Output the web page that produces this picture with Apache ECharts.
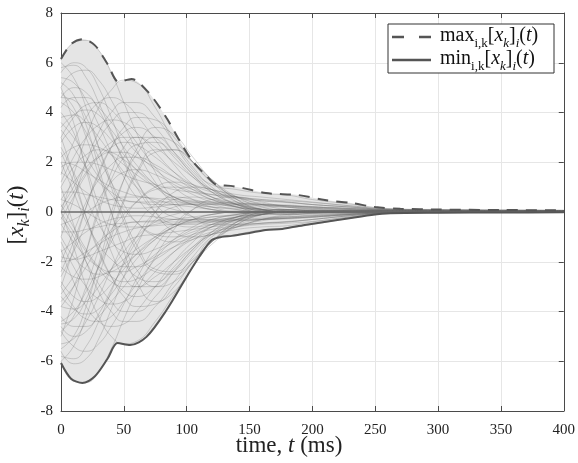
<!DOCTYPE html>
<html><head><meta charset="utf-8">
<script src="https://cdn.jsdelivr.net/npm/echarts@6/dist/echarts.min.js"></script>
<style>html,body{margin:0;padding:0;background:#fff}#c{width:578px;height:463px}</style>
</head><body><div id="c"></div><script>
// sample times (ms) for the individual trajectories
const times = [0,10,20,30,40,50,60,75,90,105,120,140,160,180,200,230,260,300,400];
const traj01 = [6.1,6.8,6.9,6.5,5.6,4.4,3.2,1.6,0.5,-0.2,-0.5,-0.5,-0.3,-0.15,-0.05,0,0.02,0.03,0.03];
const traj02 = [0.0,1.5,3.0,4.2,4.9,5.3,5.2,4.2,2.8,1.7,1.1,0.9,0.75,0.68,0.5,0.32,0.14,0.1,0.07];
const traj03 = [-6.0,-6.8,-6.85,-6.4,-5.5,-4.3,-3.2,-1.8,-0.7,0.1,0.5,0.6,0.4,0.2,0.1,0.05,0.03,0.02,0.02];
const traj04 = [0.0,-1.4,-3.0,-4.2,-5.0,-5.3,-5.2,-4.4,-3.3,-2.2,-1.1,-0.9,-0.72,-0.65,-0.5,-0.25,-0.05,-0.03,-0.02];
const traj05 = [5.6,6.0,5.8,5.0,3.8,2.5,1.3,0.0,-0.8,-1.0,-0.9,-0.6,-0.3,-0.1,0,0.02,0.03,0.03,0.03];
const traj06 = [5.0,5.6,5.7,5.3,4.5,3.5,2.5,1.2,0.3,-0.2,-0.3,-0.2,-0.1,0,0.03,0.05,0.05,0.05,0.04];
const traj07 = [4.6,4.5,3.8,2.6,1.2,-0.2,-1.3,-2.3,-2.4,-1.9,-1.2,-0.5,-0.1,0.05,0.05,0.03,0.02,0.02,0.02];
const traj08 = [4.0,3.2,1.8,0.3,-1.0,-2.0,-2.6,-2.8,-2.3,-1.5,-0.8,-0.2,0.05,0.1,0.05,0.02,0.01,0.01,0.01];
const traj09 = [5.2,4.7,3.5,1.8,0.0,-1.6,-2.8,-3.6,-3.2,-2.2,-1.2,-0.4,0,0.1,0.05,0.02,0.02,0.02,0.02];
const traj10 = [3.0,3.8,4.3,4.4,4.1,3.5,2.8,1.8,1.0,0.5,0.2,0,-0.05,0,0.02,0.03,0.04,0.04,0.04];
const traj11 = [1.5,2.8,3.8,4.4,4.6,4.4,3.9,2.9,1.9,1.1,0.6,0.2,0.05,0,0.02,0.04,0.05,0.05,0.05];
const traj12 = [-1.0,0.5,2.0,3.2,4.0,4.4,4.4,3.8,2.8,1.8,1.0,0.4,0.1,0,0,0.02,0.03,0.03,0.03];
const traj13 = [-3.0,-1.5,0.2,1.6,2.6,3.2,3.4,3.0,2.2,1.4,0.8,0.3,0.1,0,0,0.01,0.02,0.02,0.02];
const traj14 = [-5.0,-3.5,-1.6,0.2,1.6,2.6,3.0,3.0,2.4,1.6,0.9,0.3,0.05,0,0,0.01,0.02,0.02,0.02];
const traj15 = [2.2,2.6,2.7,2.6,2.3,1.9,1.5,1.0,0.6,0.3,0.1,0,0,0.02,0.03,0.05,0.06,0.06,0.05];
const traj16 = [3.6,3.0,2.2,1.4,0.7,0.1,-0.4,-0.9,-1.0,-0.8,-0.5,-0.2,0,0,0.01,0.02,0.02,0.02,0.02];
const traj17 = [1.0,1.8,2.3,2.5,2.4,2.1,1.7,1.1,0.6,0.3,0.1,0,0,0.02,0.04,0.06,0.07,0.07,0.06];
const traj18 = [-2.0,-0.8,0.4,1.3,1.9,2.2,2.2,1.9,1.4,0.9,0.5,0.2,0,0,0.01,0.02,0.03,0.03,0.03];
const traj19 = [0.5,0.3,0.0,-0.3,-0.5,-0.6,-0.6,-0.5,-0.3,-0.2,-0.1,0,0,0,0,0,0,0,0];
const traj20 = [-5.6,-6.1,-5.9,-5.1,-3.9,-2.6,-1.4,0.0,0.8,1.0,0.9,0.6,0.3,0.1,0.05,0.04,0.03,0.03,0.03];
const traj21 = [-4.8,-5.4,-5.6,-5.3,-4.6,-3.7,-2.7,-1.4,-0.5,0.1,0.3,0.2,0.1,0.05,0.03,0.02,0.02,0.02,0.02];
const traj22 = [-4.5,-4.3,-3.5,-2.2,-0.8,0.5,1.6,2.5,2.5,2.0,1.3,0.6,0.2,0.05,0,0,0.01,0.01,0.01];
const traj23 = [-3.8,-3.0,-1.6,0.0,1.3,2.2,2.7,2.8,2.3,1.5,0.8,0.3,0.05,0,0,0.01,0.02,0.02,0.02];
const traj24 = [-5.5,-5.0,-3.8,-2.1,-0.3,1.3,2.5,3.4,3.1,2.2,1.3,0.5,0.1,0,0,0.01,0.01,0.01,0.01];
const traj25 = [-3.0,-3.8,-4.3,-4.4,-4.2,-3.6,-2.9,-1.9,-1.1,-0.6,-0.3,-0.1,0,0,0.01,0.02,0.03,0.03,0.03];
const traj26 = [-1.5,-2.8,-3.8,-4.4,-4.6,-4.5,-4.0,-3.0,-2.0,-1.2,-0.6,-0.2,-0.05,0,0,0.01,0.02,0.02,0.02];
const traj27 = [1.0,-0.5,-2.0,-3.2,-4.0,-4.4,-4.4,-3.8,-2.8,-1.8,-1.0,-0.4,-0.1,0,0,0.01,0.01,0.01,0.01];
const traj28 = [3.0,1.5,-0.2,-1.6,-2.6,-3.2,-3.4,-3.0,-2.2,-1.4,-0.8,-0.3,-0.1,0,0,0,0.01,0.01,0.01];
const traj29 = [5.0,3.6,1.7,-0.2,-1.6,-2.6,-3.0,-3.0,-2.4,-1.6,-0.9,-0.3,-0.05,0,0,0,0.01,0.01,0.01];
const traj30 = [-2.2,-2.6,-2.7,-2.6,-2.3,-1.9,-1.5,-1.0,-0.6,-0.3,-0.1,0,0,0,0.01,0.02,0.03,0.03,0.03];
const traj31 = [-3.6,-3.0,-2.2,-1.4,-0.7,-0.1,0.4,0.9,1.0,0.8,0.5,0.2,0,0,0,0.01,0.01,0.01,0.01];
const traj32 = [2.0,0.8,-0.4,-1.3,-1.9,-2.2,-2.2,-1.9,-1.4,-0.9,-0.5,-0.2,0,0,0,0,0.01,0.01,0.01];
const traj33 = [-1.0,-1.8,-2.3,-2.5,-2.4,-2.1,-1.7,-1.1,-0.6,-0.3,-0.1,0,0,0,0,0.01,0.02,0.02,0.02];
const traj34 = [-0.5,-0.3,0.0,0.3,0.5,0.6,0.6,0.5,0.3,0.2,0.1,0,0,0,0,0,0,0,0];
const traj35 = [1.8,2.0,2.0,1.9,1.7,1.5,1.3,1.1,0.9,0.8,0.7,0.6,0.5,0.4,0.3,0.2,0.1,0.08,0.06];
const traj36 = [-1.8,-1.9,-1.8,-1.6,-1.4,-1.2,-1.0,-0.9,-0.8,-0.7,-0.6,-0.5,-0.45,-0.4,-0.3,-0.15,-0.04,-0.02,-0.01];
const traj37 = [4.2,4.6,4.6,4.2,3.6,3.0,2.4,1.7,1.2,0.9,0.7,0.55,0.45,0.4,0.3,0.2,0.1,0.08,0.06];
const traj38 = [-4.2,-4.6,-4.6,-4.2,-3.6,-3.0,-2.4,-1.7,-1.2,-0.9,-0.7,-0.55,-0.45,-0.4,-0.3,-0.15,-0.04,-0.02,-0.01];
const traj39 = [0.5,1.2,1.8,2.2,2.4,2.4,2.2,1.8,1.4,1.1,0.9,0.7,0.6,0.5,0.4,0.25,0.12,0.09,0.07];
const traj40 = [-0.5,-1.2,-1.8,-2.2,-2.4,-2.4,-2.2,-1.8,-1.4,-1.1,-0.9,-0.7,-0.6,-0.55,-0.4,-0.2,-0.05,-0.03,-0.02];
const traj41 = [3.3,2.6,1.8,1.2,0.8,0.5,0.4,0.3,0.3,0.3,0.3,0.25,0.2,0.2,0.15,0.1,0.06,0.05,0.04];
const traj42 = [-3.3,-2.6,-1.8,-1.2,-0.8,-0.5,-0.4,-0.35,-0.3,-0.3,-0.3,-0.25,-0.2,-0.2,-0.15,-0.1,-0.03,-0.02,-0.01];
const traj43 = [5.4,5.2,4.5,3.5,2.4,1.4,0.6,-0.2,-0.5,-0.5,-0.3,-0.1,0,0,0.01,0.02,0.03,0.03,0.03];
const traj44 = [-5.3,-5.1,-4.4,-3.4,-2.3,-1.3,-0.5,0.3,0.6,0.5,0.3,0.1,0,0,0.01,0.02,0.03,0.03,0.03];
const traj45 = [4.8,4.2,3.0,1.5,0.0,-1.3,-2.3,-3.0,-2.8,-2.0,-1.2,-0.4,0,0.1,0.05,0.02,0.02,0.02,0.02];
const traj46 = [-4.8,-4.2,-3.0,-1.5,0.0,1.3,2.3,3.0,2.8,2.0,1.2,0.4,0,-0.1,-0.05,0,0.01,0.01,0.01];
const traj47 = [2.8,3.4,3.6,3.4,2.9,2.3,1.7,1.0,0.5,0.3,0.2,0.15,0.12,0.1,0.08,0.06,0.05,0.05,0.04];
const traj48 = [-2.8,-3.4,-3.6,-3.4,-2.9,-2.3,-1.7,-1.0,-0.5,-0.3,-0.2,-0.15,-0.12,-0.1,-0.08,-0.05,-0.02,-0.01,0];
const traj49 = [0.0,0.8,1.6,2.3,2.8,3.0,3.0,2.6,2.0,1.4,0.9,0.5,0.3,0.2,0.12,0.08,0.06,0.05,0.05];
const traj50 = [0.0,-0.8,-1.6,-2.3,-2.8,-3.0,-3.0,-2.6,-2.0,-1.4,-0.9,-0.5,-0.3,-0.2,-0.12,-0.06,-0.02,-0.01,0];
const traj51 = [4.4,4.0,3.2,2.2,1.2,0.3,-0.4,-1.0,-1.2,-1.0,-0.6,-0.3,-0.1,0,0.02,0.03,0.03,0.03,0.03];
const traj52 = [-4.4,-4.0,-3.2,-2.2,-1.2,-0.3,0.4,1.0,1.2,1.0,0.6,0.3,0.1,0,0.01,0.02,0.02,0.02,0.02];
const traj53 = [1.2,2.2,3.0,3.5,3.7,3.6,3.2,2.4,1.6,1.0,0.6,0.4,0.3,0.25,0.2,0.14,0.08,0.06,0.05];
const traj54 = [-1.2,-2.2,-3.0,-3.5,-3.7,-3.6,-3.2,-2.4,-1.6,-1.0,-0.6,-0.4,-0.3,-0.25,-0.2,-0.1,-0.03,-0.01,0];
const traj55 = [2.6,1.6,0.5,-0.5,-1.2,-1.6,-1.7,-1.5,-1.1,-0.7,-0.4,-0.2,-0.1,-0.05,0,0.01,0.02,0.02,0.02];
const traj56 = [-2.6,-1.6,-0.5,0.5,1.2,1.6,1.7,1.5,1.1,0.7,0.4,0.2,0.1,0.05,0.02,0.02,0.02,0.02,0.02];
const traj57 = [5.8,5.9,5.4,4.4,3.2,2.0,1.0,0.0,-0.5,-0.6,-0.5,-0.3,-0.1,0,0.02,0.03,0.03,0.03,0.03];
const traj58 = [-5.8,-5.9,-5.4,-4.4,-3.2,-2.0,-1.0,0.0,0.5,0.6,0.5,0.3,0.1,0,0.01,0.02,0.02,0.02,0.02];
const traj59 = [0.8,0.8,0.7,0.6,0.5,0.45,0.4,0.4,0.4,0.4,0.4,0.35,0.3,0.28,0.22,0.15,0.09,0.07,0.05];
const traj60 = [-0.8,-0.8,-0.7,-0.6,-0.5,-0.45,-0.4,-0.4,-0.4,-0.4,-0.4,-0.35,-0.3,-0.28,-0.22,-0.12,-0.04,-0.02,-0.01];
const traj61 = [3.8,3.9,3.6,3.0,2.3,1.6,1.0,0.4,0.1,0.0,0.0,0.05,0.08,0.08,0.07,0.05,0.04,0.04,0.04];
const traj62 = [-3.8,-3.9,-3.6,-3.0,-2.3,-1.6,-1.0,-0.4,-0.1,0.0,0.0,-0.05,-0.08,-0.08,-0.06,-0.03,-0.01,0,0];
const traj63 = [-0.3,0.6,1.5,2.2,2.6,2.8,2.7,2.2,1.6,1.1,0.8,0.6,0.5,0.45,0.38,0.25,0.12,0.08,0.06];
const traj64 = [0.3,-0.6,-1.5,-2.2,-2.6,-2.8,-2.7,-2.2,-1.6,-1.1,-0.8,-0.6,-0.5,-0.45,-0.38,-0.2,-0.05,-0.02,-0.01];
const traj65 = [2.0,1.9,1.6,1.3,1.0,0.8,0.65,0.55,0.5,0.45,0.4,0.35,0.3,0.25,0.2,0.13,0.08,0.06,0.05];
const traj66 = [-2.0,-1.9,-1.6,-1.3,-1.0,-0.8,-0.65,-0.55,-0.5,-0.45,-0.4,-0.35,-0.3,-0.25,-0.2,-0.1,-0.03,-0.01,0];
const traj67 = [4.6,5.0,4.8,4.1,3.1,2.1,1.2,0.3,-0.2,-0.3,-0.2,-0.1,0,0.02,0.03,0.04,0.04,0.04,0.04];
const traj68 = [-4.6,-5.0,-4.8,-4.1,-3.1,-2.1,-1.2,-0.3,0.2,0.3,0.2,0.1,0,0,0.01,0.02,0.02,0.02,0.02];
const traj69 = [-2.4,-1.2,0.2,1.5,2.6,3.4,3.8,3.7,3.0,2.0,1.2,0.6,0.35,0.25,0.18,0.1,0.06,0.05,0.04];
const traj70 = [2.4,1.2,-0.2,-1.5,-2.6,-3.4,-3.8,-3.7,-3.0,-2.0,-1.2,-0.6,-0.35,-0.25,-0.18,-0.08,-0.02,-0.01,0];
const traj71 = [1.6,1.2,0.8,0.5,0.3,0.2,0.15,0.2,0.3,0.35,0.35,0.3,0.25,0.2,0.15,0.1,0.06,0.05,0.04];
const traj72 = [-1.6,-1.2,-0.8,-0.5,-0.3,-0.2,-0.15,-0.2,-0.3,-0.35,-0.35,-0.3,-0.25,-0.2,-0.15,-0.07,-0.02,-0.01,0];
const traj73 = [3.4,3.9,4.1,3.9,3.3,2.6,1.9,1.1,0.6,0.4,0.35,0.3,0.28,0.25,0.2,0.14,0.08,0.06,0.05];
const traj74 = [-3.4,-3.9,-4.1,-3.9,-3.3,-2.6,-1.9,-1.1,-0.6,-0.4,-0.35,-0.3,-0.28,-0.25,-0.2,-0.1,-0.03,-0.01,0];
const traj75 = [0.2,1.0,2.0,2.9,3.6,4.0,4.0,3.4,2.4,1.5,0.9,0.6,0.45,0.38,0.3,0.2,0.1,0.07,0.05];
const traj76 = [-0.2,-1.0,-2.0,-2.9,-3.6,-4.0,-4.0,-3.4,-2.4,-1.5,-0.9,-0.6,-0.45,-0.38,-0.3,-0.15,-0.04,-0.02,0];
const traj77 = [6.0,5.4,4.2,2.6,1.0,-0.4,-1.5,-2.4,-2.5,-2.0,-1.3,-0.5,-0.1,0.05,0.05,0.03,0.02,0.02,0.02];
const traj78 = [-6.0,-5.4,-4.2,-2.6,-1.0,0.4,1.5,2.4,2.5,2.0,1.3,0.5,0.1,-0.05,-0.03,0,0.01,0.01,0.01];
const trajectories = [traj01,traj02,traj03,traj04,traj05,traj06,traj07,traj08,traj09,traj10,
  traj11,traj12,traj13,traj14,traj15,traj16,traj17,traj18,traj19,traj20,traj21,traj22,traj23,
  traj24,traj25,traj26,traj27,traj28,traj29,traj30,traj31,traj32,traj33,traj34,traj35,traj36,
  traj37,traj38,traj39,traj40,traj41,traj42,traj43,traj44,traj45,traj46,traj47,traj48,traj49,
  traj50,traj51,traj52,traj53,traj54,traj55,traj56,traj57,traj58,traj59,traj60,traj61,traj62,
  traj63,traj64,traj65,traj66,traj67,traj68,traj69,traj70,traj71,traj72,traj73,traj74,traj75,
  traj76,traj77,traj78];
const zeroValues = [0,0,0,0,0,0,0,0,0,0,0,0,0,0,0,0,0,0,0];

// envelopes
const maxTimes  = [0,8,17,27,37,46,56,70,84,94,104,115,124,135,145,163,189,210,231,250,270,300,350,400];
const maxValues = [6.15,6.75,6.95,6.7,5.95,5.23,5.35,4.78,3.78,2.9,2.09,1.49,1.09,1.05,0.96,0.76,0.68,0.48,0.36,0.2,0.13,0.1,0.08,0.07];
const minTimes  = [0,8,17,27,37,45,55,68,84,100,110,120,128,136,150,163,176,194,220,247,262,300,350,400];
const minValues = [-6.07,-6.7,-6.87,-6.6,-5.9,-5.27,-5.35,-5.02,-3.94,-2.6,-1.8,-1.13,-1.0,-0.96,-0.84,-0.72,-0.68,-0.52,-0.32,-0.12,-0.05,-0.03,-0.02,-0.01];

const xTicks = [0,50,100,150,200,250,300,350,400];
const yTicks = [-8,-6,-4,-2,0,2,4,6,8];

const FONT = 'Liberation Serif';
const pair = (ts, vs) => ts.map((t, i) => [t, vs[i]]);

const series = [];
series.push({type:'line', data:pair(maxTimes,maxValues), smooth:0.3, symbol:'none', silent:true,
  lineStyle:{width:0}, areaStyle:{color:'#e5e5e5', opacity:1, origin:0}, z:1});
series.push({type:'line', data:pair(minTimes,minValues), smooth:0.3, symbol:'none', silent:true,
  lineStyle:{width:0}, areaStyle:{color:'#e5e5e5', opacity:1, origin:0}, z:1});
trajectories.forEach(tr => series.push({type:'line', data:pair(times,tr), smooth:0.5, symbol:'none', silent:true,
  lineStyle:{color:'rgba(105,105,105,0.3)', width:0.9}, z:2}));
series.push({type:'line', data:pair(times,zeroValues), symbol:'none', silent:true,
  lineStyle:{color:'#6a6a6a', width:1.7}, z:3});
series.push({type:'line', data:pair(maxTimes,maxValues), smooth:0.3, symbol:'none', silent:true,
  lineStyle:{color:'#555', width:2, type:[11,8]}, z:4});
series.push({type:'line', data:pair(minTimes,minValues), smooth:0.3, symbol:'none', silent:true,
  lineStyle:{color:'#555', width:2}, z:4});

const axisCol = '#4a4a4a';
const tick = {show:true, inside:true, length:5, lineStyle:{color:axisCol}};
const legRich = {
  n:{fontFamily:FONT, fontSize:20, fill:'#111', verticalAlign:'bottom', padding:[0,0,4,0]},
  i:{fontFamily:FONT, fontSize:20, fontStyle:'italic', fill:'#111', verticalAlign:'bottom', padding:[0,0,4,0]},
  s:{fontFamily:FONT, fontSize:13, fill:'#111', verticalAlign:'bottom'},
  si:{fontFamily:FONT, fontSize:13, fontStyle:'italic', fill:'#111', verticalAlign:'bottom'}
};
const chart = echarts.init(document.getElementById('c'), null, {renderer:'canvas'});
chart.setOption({
  animation:false,
  backgroundColor:'#fff',
  grid:{left:61, right:11, top:13, bottom:52},
  xAxis:[{type:'value', min:xTicks[0], max:xTicks[xTicks.length-1], interval:50,
    axisLine:{show:true, onZero:false, lineStyle:{color:axisCol, width:1}}, axisTick:tick,
    axisLabel:{fontFamily:FONT, fontSize:15, color:'#222', margin:12},
    splitLine:{show:true, lineStyle:{color:'#e6e6e6', width:1}}},
    {type:'value', position:'top', min:0, max:400, interval:50,
    axisLine:{show:true, onZero:false, lineStyle:{color:axisCol, width:1}}, axisTick:tick,
    axisLabel:{show:false}, splitLine:{show:false}}],
  yAxis:[{type:'value', min:yTicks[0], max:yTicks[yTicks.length-1], interval:2,
    axisLine:{show:true, onZero:false, lineStyle:{color:axisCol, width:1}}, axisTick:tick,
    axisLabel:{fontFamily:FONT, fontSize:15, color:'#222', margin:8},
    splitLine:{show:true, lineStyle:{color:'#e6e6e6', width:1}}},
    {type:'value', position:'right', min:-8, max:8, interval:2,
    axisLine:{show:true, onZero:false, lineStyle:{color:axisCol, width:1}}, axisTick:tick,
    axisLabel:{show:false}, splitLine:{show:false}}],
  series: series,
  graphic:[
    {type:'text', left:'center', top:434, style:{
      text:'{n|time, }{i|t}{n| (ms)}',
      rich:{n:{fontFamily:FONT, fontSize:23, fill:'#222'}, i:{fontFamily:FONT, fontSize:23, fontStyle:'italic', fill:'#222'}}}},
    {type:'text', x:19, y:215, rotation:Math.PI/2, style:{
      text:'{n|[}{i|x}{s|k}{n|]}{s|i}{n|(}{i|t}{n|)}', align:'center', verticalAlign:'middle',
      rich:{n:{fontFamily:FONT, fontSize:23, fill:'#222', verticalAlign:'bottom', padding:[0,0,5,0]},
            i:{fontFamily:FONT, fontSize:23, fontStyle:'italic', fill:'#222', verticalAlign:'bottom', padding:[0,0,5,0]},
            s:{fontFamily:FONT, fontSize:16, fontStyle:'italic', fill:'#222', verticalAlign:'bottom'}}}},
    {type:'rect', shape:{x:388, y:24, width:166, height:49}, style:{fill:'#fff', stroke:'#333', lineWidth:1}, z:10},
    {type:'line', shape:{x1:392, y1:37, x2:431, y2:37}, style:{stroke:'#555', lineWidth:2.5, lineDash:[12,15]}, z:11},
    {type:'line', shape:{x1:392, y1:60, x2:431, y2:60}, style:{stroke:'#555', lineWidth:2.5}, z:11},
    {type:'text', x:440, y:38, z:11, style:{
      text:'{n|max}{s|i,k}{n|[}{i|x}{si|k}{n|]}{si|i}{n|(}{i|t}{n|)}', align:'left', verticalAlign:'middle', rich:legRich}},
    {type:'text', x:440, y:61, z:11, style:{
      text:'{n|min}{s|i,k}{n|[}{i|x}{si|k}{n|]}{si|i}{n|(}{i|t}{n|)}', align:'left', verticalAlign:'middle', rich:legRich}}
  ]
});
</script></body></html>
